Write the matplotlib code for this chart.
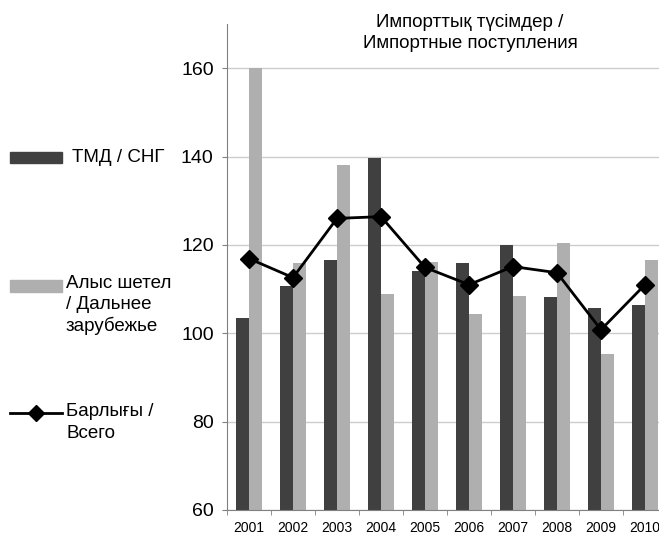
import matplotlib.pyplot as plt
import numpy as np
from matplotlib.patches import Rectangle
from matplotlib.lines import Line2D

plt.rcParams['font.family'] = ['Liberation Sans', 'DejaVu Sans']

years = ['2001', '2002', '2003', '2004', '2005', '2006', '2007', '2008', '2009', '2010']
cis = [103.5, 110.6, 116.5, 139.6, 114.0, 116.0, 119.9, 108.3, 105.8, 106.5]
far_abroad = [160.0, 115.8, 138.0, 109.0, 116.2, 104.4, 108.5, 120.5, 95.4, 116.5]
total = [116.9, 112.6, 126.0, 126.4, 114.9, 111.0, 115.1, 113.7, 100.8, 111.0]

title = 'Импорттық түсімдер /\nИмпортные поступления'
label_cis = 'ТМД / СНГ'
label_far = 'Алыс шетел\n/ Дальнее\nзарубежье'
label_total = 'Барлығы /\nВсего'

dark = '#404040'
light = '#afafaf'
fs = 13.5

W, H = 659, 536
fig = plt.figure(figsize=(W / 100, H / 100), dpi=100)
# axes runs past the right edge of the picture, like the original crop
ax = fig.add_axes([227 / W, 1 - 510 / H, 440 / W, (510 - 24) / H])

x = np.arange(len(years))
w = 0.295
ax.bar(x - w / 2, cis, w, color=dark, zorder=2)
ax.bar(x + w / 2, far_abroad, w, color=light, zorder=2)
ax.plot(x, total, color='black', lw=2, marker='D', ms=9, zorder=3)

ax.set_xlim(-0.5, len(years) - 0.5)
ax.set_ylim(60, 170)
ax.set_yticks([60, 80, 100, 120, 140, 160])
ax.tick_params(axis='y', labelsize=14, length=3.6, color='#808080', pad=6)
ax.yaxis.grid(True, color='#cccccc', lw=1, zorder=0)

ax.set_xticks(x)
ax.set_xticklabels(years, fontsize=10)
ax.set_xticks(np.arange(-0.5, len(years)), minor=True)
ax.tick_params(axis='x', which='major', length=0, pad=8)
ax.tick_params(axis='x', which='minor', length=3.6, color='#808080')

for s in ['top', 'right']:
    ax.spines[s].set_visible(False)
for s in ['left', 'bottom']:
    ax.spines[s].set_color('#808080')

fig.text(470 / W, 1 - 14 / H, title, ha='center', va='top', fontsize=fs, linespacing=1.3)

# legend drawn by hand on the left side
fig.add_artist(Rectangle((10 / W, 1 - 163 / H), 52 / W, 11 / H, transform=fig.transFigure, color=dark))
fig.text(72 / W, 1 - 157 / H, label_cis, va='center', fontsize=fs)

fig.add_artist(Rectangle((10 / W, 1 - 292 / H), 52 / W, 12 / H, transform=fig.transFigure, color=light))
fig.text(66 / W, 1 - 275 / H, label_far, va='top', fontsize=fs, linespacing=1.28)

fig.add_artist(Line2D([10 / W, 62 / W], [1 - 413 / H, 1 - 413 / H], transform=fig.transFigure,
                      color='black', lw=2))
fig.add_artist(Line2D([36 / W], [1 - 413 / H], transform=fig.transFigure,
                      color='black', marker='D', ms=8))
fig.text(66 / W, 1 - 403 / H, label_total, va='top', fontsize=fs, linespacing=1.35)

fig.savefig('out.png', dpi=100)
